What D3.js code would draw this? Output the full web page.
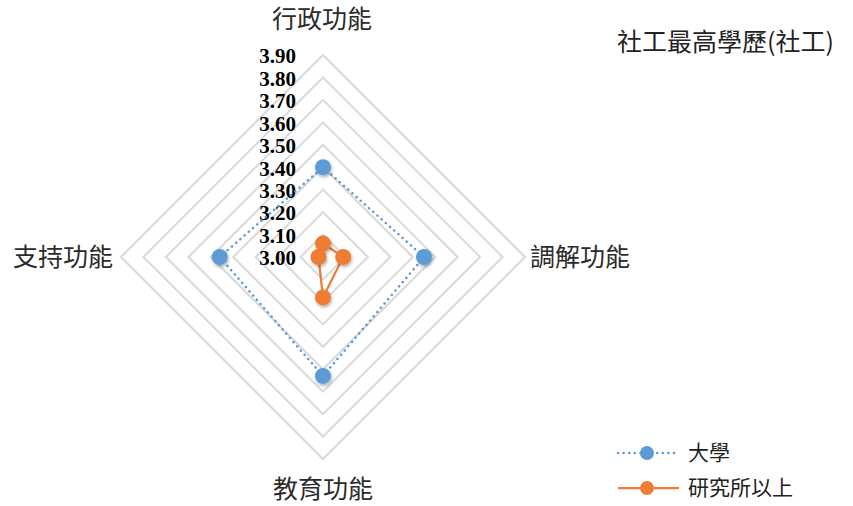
<!DOCTYPE html>
<html>
<head>
<meta charset="utf-8">
<script src="https://cdn.jsdelivr.net/npm/d3@7/dist/d3.min.js"></script>
<style>
  html, body { margin: 0; padding: 0; background: #fff; }
  svg { display: block; }
</style>
</head>
<body>
<svg id="chart" width="853" height="506"></svg>
<script>
// Radar chart: 社工最高學歷(社工)
const axes = ["行政功能", "調解功能", "教育功能", "支持功能"];
const seriesNames = ["大學", "研究所以上"];
const univValues = [3.40, 3.45, 3.53, 3.46];
const gradValues = [3.06, 3.09, 3.18, 3.02];
const ticks = [3.00, 3.10, 3.20, 3.30, 3.40, 3.50, 3.60, 3.70, 3.80, 3.90];
const title = "社工最高學歷(社工)";

const svg = d3.select("#chart");
const cx = 323, cy = 257, R = 202;
const cjk = "'Noto Sans CJK TC', 'Noto Sans CJK SC', sans-serif";

const r = d3.scaleLinear().domain([3.0, 3.9]).range([0, R]);
const angle = d3.scalePoint().domain(axes).range([0, 2 * Math.PI * 3 / 4]);

function pt(axis, v) {
  const a = angle(axis) - Math.PI / 2;
  return [cx + r(v) * Math.cos(a), cy + r(v) * Math.sin(a)];
}

// soft shadow for markers
const defs = svg.append("defs");
const f = defs.append("filter").attr("id", "shadow").attr("x", "-50%").attr("y", "-50%").attr("width", "200%").attr("height", "200%");
f.append("feDropShadow").attr("dx", 1).attr("dy", 2).attr("stdDeviation", 1.5).attr("flood-color", "#000").attr("flood-opacity", 0.3);

// grid rings
const ring = d3.line().curve(d3.curveLinearClosed);
svg.append("g").selectAll("path")
  .data(ticks.filter(t => t > 3.0))
  .join("path")
  .attr("d", t => ring(axes.map(a => pt(a, t))))
  .attr("fill", "none")
  .attr("stroke", "#d9d9d9")
  .attr("stroke-width", 2);

// tick labels
svg.append("g").selectAll("text")
  .data(ticks)
  .join("text")
  .attr("x", 296)
  .attr("y", t => cy - r(t) + 1)
  .attr("dy", "0.35em")
  .attr("text-anchor", "end")
  .attr("font-family", "'Liberation Serif', serif")
  .attr("font-weight", "bold")
  .attr("font-size", 21)
  .attr("fill", "#000")
  .text(t => t.toFixed(2));

// axis labels
const labelPos = {
  "行政功能": { x: cx - 1, y: 19, anchor: "middle" },
  "調解功能": { x: 530, y: cy, anchor: "start" },
  "教育功能": { x: cx, y: 489, anchor: "middle" },
  "支持功能": { x: 113, y: cy, anchor: "end" }
};
svg.append("g").selectAll("text")
  .data(axes)
  .join("text")
  .attr("x", a => labelPos[a].x)
  .attr("y", a => labelPos[a].y)
  .attr("dy", "0.35em")
  .attr("text-anchor", a => labelPos[a].anchor)
  .attr("font-family", cjk)
  .attr("font-size", 25)
  .attr("fill", "#2b2b2b")
  .text(a => a);

// series
const series = [
  { name: seriesNames[0], values: univValues, color: "#5b9bd5", dash: "0.1 5.5", cap: "round", width: 2.5 },
  { name: seriesNames[1], values: gradValues, color: "#ed7d31", dash: null, cap: "butt", width: 2.25 }
];

series.forEach(s => {
  const g = svg.append("g");
  g.append("path")
    .attr("d", ring(axes.map((a, i) => pt(a, s.values[i]))))
    .attr("fill", "none")
    .attr("stroke", s.color)
    .attr("stroke-width", s.width)
    .attr("stroke-dasharray", s.dash)
    .attr("stroke-linecap", s.cap);
  g.selectAll("circle")
    .data(axes.map((a, i) => pt(a, s.values[i])))
    .join("circle")
    .attr("cx", d => d[0])
    .attr("cy", d => d[1])
    .attr("r", 8)
    .attr("fill", s.color)
    .attr("filter", "url(#shadow)");
});

// title
svg.append("text")
  .attr("x", 617).attr("y", 42).attr("dy", "0.35em")
  .attr("font-family", cjk).attr("font-size", 25).attr("fill", "#222")
  .text(title);

// legend
const legend = svg.append("g");
series.forEach((s, i) => {
  const y = 453 + i * 35;
  legend.append("line")
    .attr("x1", 618).attr("x2", 679).attr("y1", y).attr("y2", y)
    .attr("stroke", s.color).attr("stroke-width", s.width)
    .attr("stroke-dasharray", s.dash).attr("stroke-linecap", s.cap);
  legend.append("circle").attr("cx", 647).attr("cy", y).attr("r", 7).attr("fill", s.color);
  legend.append("text")
    .attr("x", 688).attr("y", y).attr("dy", "0.35em")
    .attr("font-family", cjk).attr("font-size", 21).attr("fill", "#222")
    .text(s.name);
});
</script>
</body>
</html>
